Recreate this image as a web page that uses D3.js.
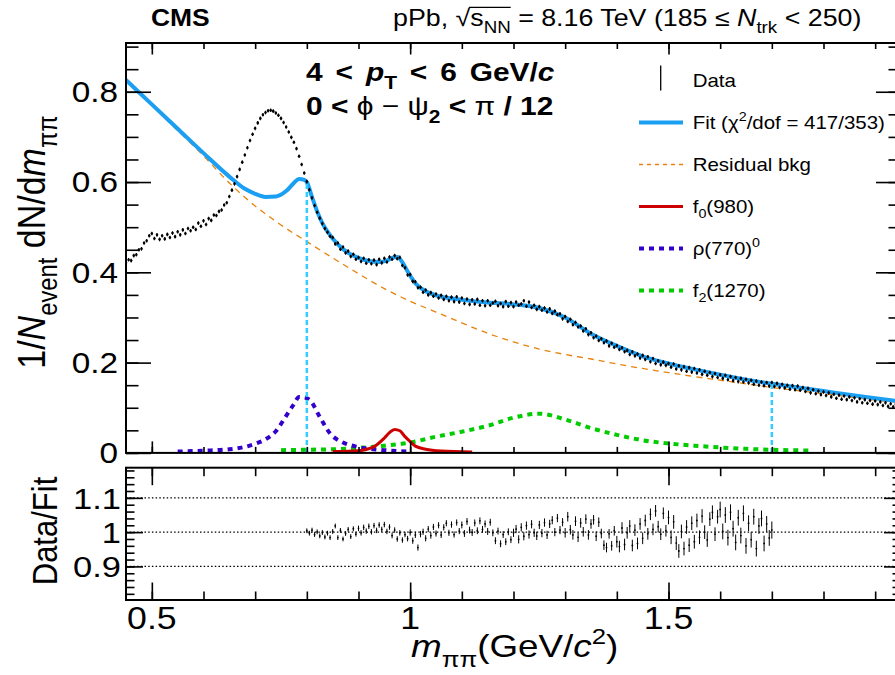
<!DOCTYPE html>
<html><head><meta charset="utf-8">
<script src="https://cdn.jsdelivr.net/npm/d3@7"></script>
<style>body{margin:0;background:#fff}svg{display:block}</style>
</head><body><svg id="c" width="895" height="675"></svg>
<script>
// ---------------- DATA ----------------
// data histogram: bin centres start at 0.45 GeV, 5 MeV apart
const dataStart = 0.45, dataStep = 0.005;
const dataY = [
0.421,0.428,0.426,0.437,0.439,0.450,0.452,0.465,0.470,0.481,
0.486,0.475,0.483,0.473,0.481,0.474,0.484,0.477,0.487,0.479,
0.490,0.483,0.494,0.486,0.497,0.492,0.500,0.495,0.509,0.502,
0.514,0.506,0.519,0.515,0.527,0.526,0.535,0.538,0.549,0.554,
0.568,0.582,0.596,0.612,0.628,0.644,0.660,0.676,0.692,0.706,
0.719,0.731,0.741,0.749,0.754,0.758,0.759,0.757,0.753,0.748,
0.741,0.732,0.722,0.711,0.699,0.688,0.674,0.657,0.639,0.620,
0.601,0.583,0.565,0.548,0.533,0.520,0.508,0.497,0.489,0.480,
0.477,0.463,0.465,0.451,0.456,0.443,0.447,0.435,0.440,0.429,
0.433,0.424,0.431,0.420,0.428,0.419,0.427,0.417,0.429,0.421,
0.431,0.423,0.434,0.429,0.437,0.430,0.433,0.415,0.410,0.394,
0.395,0.380,0.379,0.366,0.367,0.356,0.361,0.350,0.355,0.347,
0.352,0.343,0.349,0.340,0.347,0.337,0.345,0.335,0.346,0.334,
0.343,0.331,0.341,0.329,0.339,0.330,0.340,0.327,0.337,0.326,
0.337,0.327,0.332,0.336,0.326,0.331,0.324,0.335,0.325,0.333,
0.324,0.334,0.327,0.330,0.337,0.325,0.334,0.322,0.327,0.318,
0.324,0.316,0.321,0.312,0.319,0.309,0.314,0.306,0.308,0.297,
0.302,0.291,0.296,0.284,0.289,0.279,0.281,0.270,0.275,0.262,
0.266,0.255,0.259,0.249,0.253,0.244,0.248,0.237,0.243,0.234,
0.238,0.229,0.233,0.224,0.227,0.218,0.224,0.215,0.219,0.210,
0.216,0.207,0.213,0.202,0.209,0.198,0.204,0.195,0.201,0.194,
0.198,0.190,0.197,0.186,0.193,0.184,0.191,0.181,0.189,0.179,
0.187,0.177,0.184,0.174,0.181,0.172,0.178,0.169,0.176,0.167,
0.173,0.165,0.172,0.162,0.169,0.160,0.167,0.158,0.165,0.157,
0.163,0.155,0.161,0.152,0.159,0.150,0.157,0.149,0.156,0.148,
0.156,0.147,0.154,0.145,0.152,0.144,0.150,0.141,0.149,0.140,
0.148,0.139,0.145,0.136,0.143,0.133,0.140,0.131,0.137,0.129,
0.135,0.127,0.133,0.124,0.130,0.121,0.128,0.119,0.126,0.118,
0.124,0.116,0.122,0.113,0.120,0.111,0.118,0.110,0.116,0.108,
0.115,0.107,0.113,0.105,0.111,0.103,0.109,0.102,0.108,0.101];
const dataErr = 0.004;

// Data/Fit ratio: bin centres start at 0.80 GeV, 5 MeV apart
const ratioStart = 0.80, ratioStep = 0.005;
const ratioY = [
1.004,0.997,1.006,0.993,1.001,0.989,0.999,0.986,0.997,0.984,
1.002,1.018,0.984,1.005,0.980,0.996,1.008,0.987,1.010,0.994,
1.011,0.998,1.014,1.003,1.017,1.001,1.019,1.005,1.021,1.008,
1.022,1.002,1.015,0.990,1.006,0.980,0.998,0.977,0.993,0.981,
0.999,0.975,0.992,0.955,0.994,1.001,0.982,1.009,0.990,1.015,
0.996,1.020,0.992,1.014,1.026,0.998,1.022,0.993,1.028,1.003,
1.021,0.996,1.031,1.006,0.999,1.027,1.004,1.033,1.008,1.024,
1.002,1.029,0.998,0.975,1.003,0.966,0.993,0.972,1.001,0.978,
0.998,1.009,0.979,1.014,0.988,1.019,0.993,1.023,0.998,0.989,
1.021,0.997,1.028,0.992,1.024,1.035,1.000,1.041,1.006,1.029,
0.998,1.045,1.007,0.992,1.032,0.985,1.027,1.001,1.038,0.992,
1.024,1.036,0.988,1.029,0.996,0.962,0.955,0.995,0.960,1.004,
0.972,0.958,1.012,0.964,0.998,1.018,0.961,1.006,0.967,1.024,
0.982,1.034,0.995,1.052,1.008,1.062,1.016,0.994,1.055,1.004,
1.043,0.985,1.030,0.968,0.945,1.002,0.952,1.015,0.962,1.026,
0.972,1.034,0.985,1.047,1.000,0.977,1.038,1.058,0.994,1.045,
1.066,1.002,1.050,0.984,1.058,1.010,0.970,1.042,0.990,1.055,
0.960,1.026,0.978,1.045,0.952,1.018,1.040,0.967,1.024,0.983,
1.006];
// ratio error size per 0.1 GeV slice, starting at 0.8
const ratioErr = [0.007,0.008,0.009,0.010,0.012,0.014,0.017,0.020,0.023,0.025];

// Fit
const fitX = [0.45,0.50,0.55,0.60,0.65,0.68,0.70,0.72,0.74,0.76,0.775,0.785,0.795,0.80,0.81,0.82,0.83,0.84,0.86,0.88,0.90,0.92,0.94,0.955,0.965,0.975,0.985,0.995,1.01,1.03,1.05,1.10,1.15,1.20,1.25,1.30,1.35,1.40,1.45,1.50,1.55,1.60,1.65,1.70,1.75,1.80,1.85,1.90,1.95];
const fitY = [0.826,0.772,0.718,0.664,0.612,0.585,0.574,0.567,0.568,0.580,0.598,0.607,0.605,0.600,0.567,0.535,0.509,0.490,0.462,0.443,0.432,0.425,0.423,0.426,0.432,0.434,0.422,0.402,0.376,0.358,0.349,0.339,0.333,0.329,0.321,0.300,0.264,0.237,0.214,0.198,0.185,0.173,0.162,0.153,0.145,0.137,0.129,0.121,0.114];
// Residual background
const bkgX = [0.45,0.50,0.55,0.60,0.65,0.70,0.75,0.80,0.85,0.90,0.95,1.00,1.05,1.10,1.15,1.20,1.25,1.30,1.35,1.40,1.45,1.50,1.55,1.60,1.65,1.70,1.75,1.80,1.85,1.90,1.95];
const bkgY = [0.826,0.770,0.714,0.658,0.598,0.547,0.505,0.468,0.432,0.397,0.364,0.336,0.312,0.288,0.265,0.246,0.230,0.218,0.208,0.197,0.187,0.178,0.169,0.161,0.153,0.145,0.138,0.131,0.124,0.117,0.111];
// f0(980)
const f0X = [0.85,0.90,0.93,0.95,0.96,0.97,0.98,0.99,1.00,1.01,1.03,1.06,1.12];
const f0Y = [0.003,0.005,0.014,0.033,0.045,0.052,0.049,0.036,0.025,0.015,0.008,0.004,0.002];
// rho(770)0
const rhoX = [0.55,0.60,0.65,0.70,0.72,0.74,0.76,0.775,0.785,0.795,0.806,0.825,0.845,0.87,0.90,0.95,1.00];
const rhoY = [0.003,0.005,0.008,0.020,0.030,0.048,0.082,0.108,0.124,0.123,0.117,0.080,0.043,0.023,0.013,0.006,0.003];
// f2(1270)
const f2X = [0.75,0.80,0.85,0.90,0.95,1.00,1.05,1.10,1.15,1.20,1.25,1.30,1.35,1.40,1.45,1.50,1.55,1.60,1.65,1.70,1.78];
const f2Y = [0.006,0.007,0.008,0.011,0.016,0.023,0.036,0.047,0.060,0.078,0.087,0.074,0.055,0.040,0.028,0.021,0.016,0.012,0.009,0.007,0.005];
// fit range edges (cyan markers)
const fitRange = [0.80, 1.70];

// axis ticks
const xMajor = [0.5, 1.0, 1.5];
const xMinor = d3.range(5, 20).map(v => v / 10);
const yMajor = [0, 0.2, 0.4, 0.6, 0.8];
const yMinor = d3.range(0, 19).map(v => v * 0.05);
const rMajor = [0.9, 1.0, 1.1];
const rMinor = d3.range(41, 60).map(v => v / 50);
const xLabels = ["0.5", "1", "1.5"];
const yLabels = ["0", "0.2", "0.4", "0.6", "0.8"];
const rLabels = ["0.9", "1", "1.1"];

// ---------------- LAYOUT ----------------
const FONT = "'Liberation Sans', Arial, Helvetica, sans-serif";
const SX = 1.15;
const X0 = 126, X1 = 901;
const UT = 43, UB = 452.9;
const LT = 467.7, LB = 600;
const C = {fit:"#1a9ff2", bkg:"#e8820c", f0:"#cc0000", rho:"#3300cc", f2:"#00cc00", cyan:"#33ccff"};

const x = d3.scaleLinear().domain([0.45, 1.95]).range([X0, X1]);
const y = d3.scaleLinear().domain([0, 0.908]).range([UB, UT]);
const yr = d3.scaleLinear().domain([0.802, 1.188]).range([LB, LT]);

const svg = d3.select("#c");
svg.append("rect").attr("width", 895).attr("height", 675).attr("fill", "#fff");
const defs = svg.append("defs");
defs.append("clipPath").attr("id", "cu").append("rect").attr("x", X0).attr("y", UT).attr("width", X1 - X0).attr("height", UB - UT);
defs.append("clipPath").attr("id", "cl").append("rect").attr("x", X0).attr("y", LT).attr("width", X1 - X0).attr("height", LB - LT);

function rich(parent, px, py, segs, o) {
  const g = parent.append("g").attr("transform", `translate(${px},${py}) scale(${SX},1)` + (o.rotate ? ` rotate(${o.rotate})` : ""));
  const t = g.append("text").attr("font-family", FONT).attr("font-size", o.size)
    .attr("text-anchor", o.anchor || "start").attr("font-weight", o.weight || "normal").attr("fill", "#000");
  if (o.ws) t.attr("word-spacing", o.ws);
  let cur = 0; const nodes = [];
  segs.forEach(s => {
    if (typeof s === "string") s = {t: s};
    const target = s.sub ? o.size * 0.3 : s.sup ? -o.size * 0.42 : 0;
    const ts = t.append("tspan").text(s.t);
    if (target - cur !== 0) ts.attr("dy", target - cur);
    cur = target;
    if (s.sub || s.sup) ts.attr("font-size", o.size * 0.7);
    if (s.i) ts.attr("font-style", "italic");
    if (s.w) ts.attr("font-weight", s.w);
    nodes.push(ts.node());
  });
  return {g, t, nodes};
}

// ---------------- AXES / TICKS ----------------
function tickGroup(parent, axis, tr) {
  parent.append("g").attr("transform", tr).call(axis)
    .call(g => g.select(".domain").remove())
    .call(g => g.selectAll("line").attr("stroke", "#000").attr("stroke-width", 1.6));
}
function frameTicks(yS, top, bot, yMaj, yMin, xMajL, xMinL, yMajL, yMinL) {
  const g = svg.append("g");
  tickGroup(g, d3.axisTop(x).tickValues(xMinor).tickSize(xMinL).tickFormat(""), `translate(0,${bot})`);
  tickGroup(g, d3.axisTop(x).tickValues(xMajor).tickSize(xMajL).tickFormat(""), `translate(0,${bot})`);
  tickGroup(g, d3.axisBottom(x).tickValues(xMinor).tickSize(xMinL).tickFormat(""), `translate(0,${top})`);
  tickGroup(g, d3.axisBottom(x).tickValues(xMajor).tickSize(xMajL).tickFormat(""), `translate(0,${top})`);
  tickGroup(g, d3.axisRight(yS).tickValues(yMin).tickSize(yMinL).tickFormat(""), `translate(${X0},0)`);
  tickGroup(g, d3.axisRight(yS).tickValues(yMaj).tickSize(yMajL).tickFormat(""), `translate(${X0},0)`);
  tickGroup(g, d3.axisLeft(yS).tickValues(yMin).tickSize(yMinL).tickFormat(""), `translate(${X1},0)`);
  tickGroup(g, d3.axisLeft(yS).tickValues(yMaj).tickSize(yMajL).tickFormat(""), `translate(${X1},0)`);
  g.append("rect").attr("x", X0).attr("y", top).attr("width", X1 - X0).attr("height", bot - top)
    .attr("fill", "none").attr("stroke", "#000").attr("stroke-width", 2);
}

// ---------------- UPPER PANEL ----------------
const up = svg.append("g").attr("clip-path", "url(#cu)");
const line = (xs, ys) => d3.line().x((d, i) => x(xs[i])).y((d, i) => y(ys[i])).curve(d3.curveMonotoneX)(ys);

up.append("path").attr("d", line(bkgX, bkgY)).attr("fill", "none").attr("stroke", C.bkg).attr("stroke-width", 1.3).attr("stroke-dasharray", "6,5");
up.append("path").attr("d", line(f2X, f2Y)).attr("fill", "none").attr("stroke", C.f2).attr("stroke-width", 4).attr("stroke-dasharray", "5,5");
up.append("path").attr("d", line(rhoX, rhoY)).attr("fill", "none").attr("stroke", C.rho).attr("stroke-width", 4).attr("stroke-dasharray", "5,5");
up.append("path").attr("d", line(f0X, f0Y)).attr("fill", "none").attr("stroke", C.f0).attr("stroke-width", 3);
up.append("path").attr("d", line(fitX, fitY)).attr("fill", "none").attr("stroke", C.fit).attr("stroke-width", 4);
fitRange.forEach(m => {
  const v = fitY[fitX.indexOf(m)];
  up.append("line").attr("x1", x(m)).attr("x2", x(m)).attr("y1", y(0)).attr("y2", y(v))
    .attr("stroke", C.cyan).attr("stroke-width", 2.5).attr("stroke-dasharray", "5,3");
});
const dpts = up.append("g");
dataY.forEach((v, i) => {
  const m = dataStart + i * dataStep;
  dpts.append("line").attr("x1", x(m)).attr("x2", x(m)).attr("y1", y(v - dataErr)).attr("y2", y(v + dataErr)).attr("stroke", "#000").attr("stroke-width", 1.1);
  dpts.append("circle").attr("cx", x(m)).attr("cy", y(v)).attr("r", 1.3).attr("fill", "#000");
});
frameTicks(y, UT, UB, yMajor, yMinor, 11.5, 6, 25, 12.5);

// ---------------- LOWER PANEL ----------------
const lo = svg.append("g").attr("clip-path", "url(#cl)");
rMajor.forEach(v => {
  lo.append("line").attr("x1", X0).attr("x2", X1).attr("y1", yr(v)).attr("y2", yr(v))
    .attr("stroke", "#000").attr("stroke-width", 1.3).attr("stroke-dasharray", "1.5,2.2");
});
ratioY.forEach((v, i) => {
  const m = ratioStart + i * ratioStep;
  const e = ratioErr[Math.min(ratioErr.length - 1, Math.floor(i / 20))];
  lo.append("line").attr("x1", x(m)).attr("x2", x(m)).attr("y1", yr(v - e)).attr("y2", yr(v + e)).attr("stroke", "#000").attr("stroke-width", 1);
  lo.append("circle").attr("cx", x(m)).attr("cy", yr(v)).attr("r", 0.9).attr("fill", "#000");
});
frameTicks(yr, LT, LB, rMajor, rMinor, 17.5, 8.5, 17, 8.5);

// ---------------- TICK LABELS ----------------
yMajor.forEach((v, i) => rich(svg, 118, y(v) + 10.2, [yLabels[i]], {size: 29, anchor: "end"}));
rMajor.forEach((v, i) => rich(svg, 121, yr(v) + 10.8, [rLabels[i]], {size: 30, anchor: "end"}));
xMajor.forEach((v, i) => rich(svg, x(v), 629, [xLabels[i]], {size: 31, anchor: "middle"}));

// ---------------- AXIS TITLES ----------------
rich(svg, 45, 242, [{t: "1/"}, {t: "N", i: 1}, {t: "event", sub: 1}, {t: " dN/d"}, {t: "m", i: 1}, {t: "ππ", sub: 1}], {size: 34, anchor: "middle", rotate: -90});
rich(svg, 57, 531, ["Data/Fit"], {size: 31, anchor: "middle", rotate: -90});
rich(svg, 411, 657, [{t: "m", i: 1}, {t: "ππ", sub: 1}, "(GeV/", {t: "c", i: 1}, {t: "2", sup: 1}, ")"], {size: 32});

// ---------------- HEADER ----------------
rich(svg, 151, 26, ["CMS"], {size: 23, weight: "bold"});
const hdr = rich(svg, 393, 26, ["pPb, ", "√", "s", {t: "NN", sub: 1}, " = 8.16 TeV (185 ≤ ", {t: "N", i: 1}, {t: "trk", sub: 1}, " < 250)"], {size: 23.3});
{
  const sN = hdr.nodes[2], nN = hdr.nodes[3];
  const xa = sN.getStartPositionOfChar(0).x, xb = nN.getEndPositionOfChar(1).x;
  hdr.g.append("line").attr("x1", xa - 1).attr("x2", xb).attr("y1", -18.7).attr("y2", -18.7).attr("stroke", "#000").attr("stroke-width", 1.2);
}

// ---------------- KINEMATIC LABELS ----------------
rich(svg, 306, 81, ["4 < ", {t: "p", i: 1}, {t: "T", sub: 1}, " < 6 GeV/", {t: "c", i: 1}], {size: 26, weight: "bold", ws: 4});
rich(svg, 306, 115, ["0 < ", {t: "ϕ", w: "normal"}, {t: " − ", w: "normal"}, {t: "ψ", w: "normal"}, {t: "2", sub: 1}, " < ", {t: "π", w: "normal"}, " / 12"], {size: 26, weight: "bold"});

// ---------------- LEGEND ----------------
const LX0 = 639, LX1 = 683, LTX = 692.7;
const rows = d3.range(6).map(i => 80.5 + 42 * i);
svg.append("line").attr("x1", 660.7).attr("x2", 660.7).attr("y1", rows[0] - 15).attr("y2", rows[0] + 10).attr("stroke", "#000").attr("stroke-width", 1.3);
const legLines = [
  {c: C.fit, w: 4, d: null},
  {c: C.bkg, w: 1.3, d: "4,4"},
  {c: C.f0, w: 3, d: null},
  {c: C.rho, w: 4, d: "5,5"},
  {c: C.f2, w: 4, d: "5,5"}
];
legLines.forEach((L, i) => {
  const ln = svg.append("line").attr("x1", LX0).attr("x2", LX1).attr("y1", rows[i + 1]).attr("y2", rows[i + 1]).attr("stroke", L.c).attr("stroke-width", L.w);
  if (L.d) ln.attr("stroke-dasharray", L.d);
});
const legTexts = [
  ["Data"],
  ["Fit (", "χ", {t: "2", sup: 1}, "/dof = 417/353)"],
  ["Residual bkg"],
  ["f", {t: "0", sub: 1}, "(980)"],
  ["ρ(770)", {t: "0", sup: 1}],
  ["f", {t: "2", sub: 1}, "(1270)"]
];
legTexts.forEach((segs, i) => rich(svg, LTX, rows[i] + 6, segs, {size: 17.8}));
</script></body></html>
